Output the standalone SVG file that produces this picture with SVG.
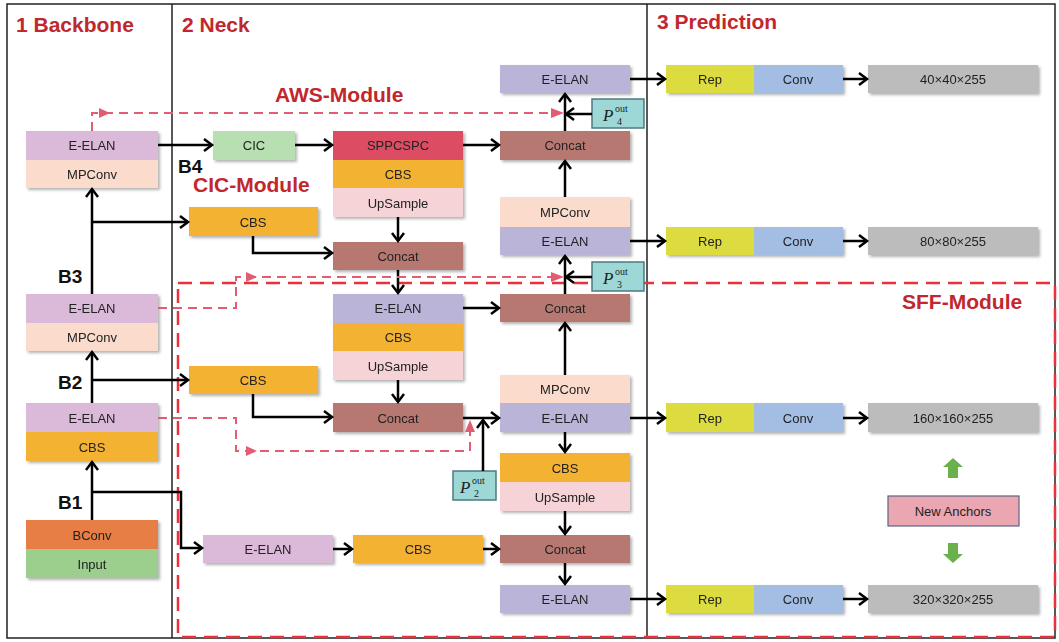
<svg xmlns="http://www.w3.org/2000/svg" width="1059" height="642" viewBox="0 0 1059 642">
<style>
.t{font-family:"Liberation Sans",Arial,sans-serif;font-size:13px;fill:#222;text-anchor:middle;dominant-baseline:central}
.h{font-family:"Liberation Sans",Arial,sans-serif;font-size:21px;font-weight:bold;fill:#c1272d}
.b{font-family:"Liberation Sans",Arial,sans-serif;font-size:19px;font-weight:bold;fill:#111}
.c{fill:none;stroke:#000;stroke-width:2.5;marker-end:url(#ah)}
.d{fill:none;stroke:#e35d72;stroke-width:2;stroke-dasharray:9,6}
.tri{fill:#e35d72}
.pe{fill:#dbb9d9}.mp{fill:#fadbcc}.cb{fill:#f4b233}.up{fill:#f6d3d6}.cc{fill:#b77872}.eb{fill:#bab4d9}
.rep{fill:#dcdc40}.conv{fill:#a3bde3}.out{fill:#bcbcbc}
.p{fill:#9ed8d6;stroke:#4d7a80;stroke-width:1.5}
.ps{font-family:"Liberation Serif","Times New Roman",serif;fill:#222}
.sh{filter:url(#shd)}
</style>
<defs>
<marker id="ah" markerUnits="userSpaceOnUse" markerWidth="14" markerHeight="14" refX="11" refY="7" orient="auto">
<path d="M3,1 L11,7 L3,13" fill="none" stroke="#000" stroke-width="2.5"/>
</marker>
<filter id="shd" x="-10%" y="-20%" width="120%" height="150%">
<feDropShadow dx="2" dy="2" stdDeviation="1.5" flood-color="#000" flood-opacity="0.3"/>
</filter>
</defs>
<rect width="1059" height="642" fill="#fff"/>
<g id="frame" fill="none" stroke="#222" stroke-width="1.5">
<rect x="7" y="4" width="1048" height="634"/>
<line x1="172" y1="4" x2="172" y2="638"/>
<line x1="647" y1="4" x2="647" y2="638"/>
</g>
<g id="headings">
<text class="h" x="16" y="32">1  Backbone</text>
<text class="h" x="182" y="32">2  Neck</text>
<text class="h" x="657" y="29">3  Prediction</text>
<text class="h" x="275" y="102">AWS-Module</text>
<text class="h" x="193" y="192">CIC-Module</text>
<text class="h" x="902" y="309">SFF-Module</text>
<text class="b" x="58" y="283">B3</text>
<text class="b" x="58" y="389">B2</text>
<text class="b" x="58" y="509">B1</text>
<text class="b" x="178" y="173">B4</text>
</g>
<g id="sff-box"><rect x="178" y="283" width="877" height="354" fill="none" stroke="#e8313a" stroke-width="2.5" stroke-dasharray="14,8"/></g>

<g id="bb-top" class="sh"><rect class="pe" x="26" y="131" width="132" height="29"/><rect class="mp" x="26" y="160" width="132" height="28"/>
<text class="t" x="92" y="145">E-ELAN</text><text class="t" x="92" y="174">MPConv</text></g>
<g id="bb-mid" class="sh"><rect class="pe" x="26" y="294" width="132" height="29"/><rect class="mp" x="26" y="323" width="132" height="28"/>
<text class="t" x="92" y="308">E-ELAN</text><text class="t" x="92" y="337">MPConv</text></g>
<g id="bb-low" class="sh"><rect class="pe" x="26" y="403" width="132" height="29"/><rect class="cb" x="26" y="432" width="132" height="29"/>
<text class="t" x="92" y="418">E-ELAN</text><text class="t" x="92" y="447">CBS</text></g>
<g id="bb-in" class="sh"><rect x="26" y="520" width="132" height="29" fill="#e67e45"/><rect x="26" y="549" width="132" height="29" fill="#9ccf8d"/>
<text class="t" x="92" y="535">BConv</text><text class="t" x="92" y="564">Input</text></g>

<g id="cic" class="sh"><rect x="213" y="131" width="82" height="29" fill="#b7dfb1"/><text class="t" x="254" y="145">CIC</text></g>
<g id="cbs-n1" class="sh"><rect class="cb" x="189" y="207" width="129" height="29"/><text class="t" x="253" y="222">CBS</text></g>
<g id="cbs-n2" class="sh"><rect class="cb" x="189" y="366" width="129" height="28"/><text class="t" x="253" y="380">CBS</text></g>
<g id="spp" class="sh"><rect x="333" y="131" width="130" height="29" fill="#dc4e63"/><rect class="cb" x="333" y="160" width="130" height="28"/><rect class="up" x="333" y="188" width="130" height="29"/>
<text class="t" x="398" y="145">SPPCSPC</text><text class="t" x="398" y="174">CBS</text><text class="t" x="398" y="203">UpSample</text></g>
<g id="concat1" class="sh"><rect class="cc" x="333" y="242" width="130" height="28"/><text class="t" x="398" y="256">Concat</text></g>
<g id="elan-n2" class="sh"><rect class="eb" x="333" y="294" width="130" height="29"/><rect class="cb" x="333" y="323" width="130" height="28"/><rect class="up" x="333" y="351" width="130" height="29"/>
<text class="t" x="398" y="308">E-ELAN</text><text class="t" x="398" y="337">CBS</text><text class="t" x="398" y="366">UpSample</text></g>
<g id="concat2" class="sh"><rect class="cc" x="333" y="403" width="130" height="29"/><text class="t" x="398" y="418">Concat</text></g>
<g id="elan-b" class="sh"><rect class="pe" x="203" y="535" width="130" height="28"/><text class="t" x="268" y="549">E-ELAN</text></g>
<g id="cbs-b" class="sh"><rect class="cb" x="353" y="535" width="130" height="28"/><text class="t" x="418" y="549">CBS</text></g>

<g id="elan-r1" class="sh"><rect class="eb" x="500" y="65" width="130" height="28"/><text class="t" x="565" y="79">E-ELAN</text></g>
<g id="concat-r1" class="sh"><rect class="cc" x="500" y="131" width="130" height="29"/><text class="t" x="565" y="145">Concat</text></g>
<g id="mp-r2" class="sh"><rect class="mp" x="500" y="197" width="130" height="30"/><rect class="eb" x="500" y="227" width="130" height="28"/>
<text class="t" x="565" y="212">MPConv</text><text class="t" x="565" y="241">E-ELAN</text></g>
<g id="concat-r2" class="sh"><rect class="cc" x="500" y="294" width="130" height="28"/><text class="t" x="565" y="308">Concat</text></g>
<g id="mp-r3" class="sh"><rect class="mp" x="500" y="375" width="130" height="28"/><rect class="eb" x="500" y="403" width="130" height="29"/>
<text class="t" x="565" y="389">MPConv</text><text class="t" x="565" y="418">E-ELAN</text></g>
<g id="cbs-r" class="sh"><rect class="cb" x="500" y="453" width="130" height="29"/><rect class="up" x="500" y="482" width="130" height="29"/>
<text class="t" x="565" y="468">CBS</text><text class="t" x="565" y="497">UpSample</text></g>
<g id="concat-r3" class="sh"><rect class="cc" x="500" y="535" width="130" height="28"/><text class="t" x="565" y="549">Concat</text></g>
<g id="elan-r4" class="sh"><rect class="eb" x="500" y="585" width="130" height="28"/><text class="t" x="565" y="599">E-ELAN</text></g>

<g id="p4"><rect class="p" x="592" y="99" width="52" height="29"/>
<text class="ps" x="603" y="121" font-size="17" font-style="italic">P</text><text class="ps" x="615" y="112" font-size="10">out</text><text class="ps" x="617" y="125" font-size="10">4</text></g>
<g id="p3"><rect class="p" x="592" y="262" width="52" height="29"/>
<text class="ps" x="603" y="284" font-size="17" font-style="italic">P</text><text class="ps" x="615" y="275" font-size="10">out</text><text class="ps" x="617" y="288" font-size="10">3</text></g>
<g id="p2"><rect class="p" x="453" y="471" width="43" height="29"/>
<text class="ps" x="460" y="493" font-size="17" font-style="italic">P</text><text class="ps" x="472" y="484" font-size="10">out</text><text class="ps" x="474" y="497" font-size="10">2</text></g>

<g id="pred1" class="sh"><rect class="rep" x="666" y="65" width="88" height="28"/><rect class="conv" x="754" y="65" width="89" height="28"/>
<text class="t" x="710" y="79">Rep</text><text class="t" x="798" y="79">Conv</text></g>
<g id="out1" class="sh"><rect class="out" x="868" y="65" width="170" height="28"/><text class="t" x="953" y="79">40×40×255</text></g>
<g id="pred2" class="sh"><rect class="rep" x="666" y="227" width="88" height="28"/><rect class="conv" x="754" y="227" width="89" height="28"/>
<text class="t" x="710" y="241">Rep</text><text class="t" x="798" y="241">Conv</text></g>
<g id="out2" class="sh"><rect class="out" x="868" y="227" width="170" height="28"/><text class="t" x="953" y="241">80×80×255</text></g>
<g id="pred3" class="sh"><rect class="rep" x="666" y="403" width="88" height="29"/><rect class="conv" x="754" y="403" width="89" height="29"/>
<text class="t" x="710" y="418">Rep</text><text class="t" x="798" y="418">Conv</text></g>
<g id="out3" class="sh"><rect class="out" x="868" y="403" width="170" height="29"/><text class="t" x="953" y="418">160×160×255</text></g>
<g id="pred4" class="sh"><rect class="rep" x="666" y="585" width="88" height="28"/><rect class="conv" x="754" y="585" width="89" height="28"/>
<text class="t" x="710" y="599">Rep</text><text class="t" x="798" y="599">Conv</text></g>
<g id="out4" class="sh"><rect class="out" x="868" y="585" width="170" height="28"/><text class="t" x="953" y="599">320×320×255</text></g>
<g id="anchors"><rect x="888" y="496" width="131" height="30" fill="#eba7b1" stroke="#5a6580" stroke-width="1.2"/><text class="t" x="953" y="511">New Anchors</text>
<path d="M953,458 L963,467 L958,467 L958,478 L948,478 L948,467 L943,467 Z" fill="#6ab04c"/>
<path d="M953,563 L963,554 L958,554 L958,543 L948,543 L948,554 L943,554 Z" fill="#6ab04c"/></g>

<g id="connectors">
<path class="c" d="M92,520 V462"/>
<path class="c" d="M92,492 H181 V548 H202"/>
<path class="c" d="M92,403 V352"/>
<path class="c" d="M92,380 H188"/>
<path class="c" d="M92,294 V189"/>
<path class="c" d="M92,222 H188"/>
<path class="c" d="M158,145 H212"/>
<path class="c" d="M295,145 H332"/>
<path class="c" d="M398,217 V241"/>
<path class="c" d="M253,236 V253 H332"/>
<path class="c" d="M398,270 V293"/>
<path class="c" d="M398,380 V402"/>
<path class="c" d="M253,394 V417 H332"/>
<path class="c" d="M463,145 H499"/>
<path class="c" d="M565,131 V94"/>
<path class="c" d="M592,114 H566"/>
<path class="c" d="M565,197 V161"/>
<path class="c" d="M463,308 H499"/>
<path class="c" d="M565,294 V256"/>
<path class="c" d="M592,277 H566"/>
<path class="c" d="M565,375 V323"/>
<path class="c" d="M463,418 H499"/>
<path class="c" d="M483,471 V420"/>
<path class="c" d="M565,432 V452"/>
<path class="c" d="M565,511 V534"/>
<path class="c" d="M565,563 V584"/>
<path class="c" d="M333,549 H352"/>
<path class="c" d="M483,549 H499"/>
<path class="c" d="M630,79 H665"/>
<path class="c" d="M843,79 H867"/>
<path class="c" d="M630,241 H665"/>
<path class="c" d="M843,241 H867"/>
<path class="c" d="M630,418 H665"/>
<path class="c" d="M843,418 H867"/>
<path class="c" d="M630,599 H665"/>
<path class="c" d="M843,599 H867"/>
<path class="d" d="M92,131 V113 H556"/>
<polygon class="tri" points="110,113 99,108 99,118"/>
<polygon class="tri" points="564,113 551,108 551,118"/>
<path class="d" d="M158,308 H236 V277 H556"/>
<polygon class="tri" points="257,277 246,272 246,282"/>
<polygon class="tri" points="564,277 551,272 551,282"/>
<path class="d" d="M158,418 H236 V451 H470 V428"/>
<polygon class="tri" points="257,451 246,446 246,456"/>
<polygon class="tri" points="470,420 465,432 475,432"/>
</g>
</svg>
